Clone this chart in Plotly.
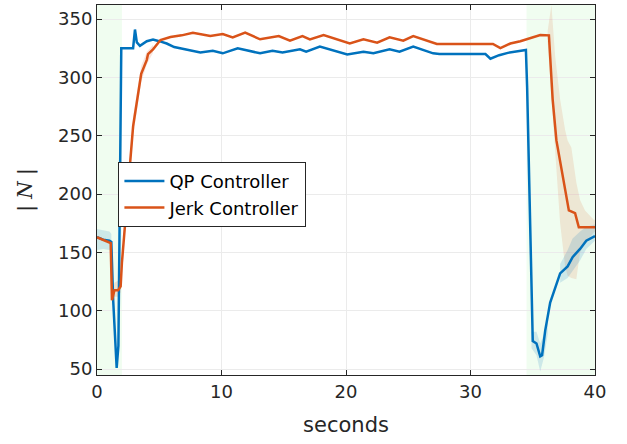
import plotly.graph_objects as go

# --- time / value samples for the two controllers ---
qp_t = [0, 0.5, 1.0, 1.15, 1.3, 1.58, 1.72, 1.95, 2.9, 3.05, 3.2, 3.45, 4.0, 4.5,
        5.0, 5.6, 6.2, 6.7, 7.5, 8.3, 9.3, 10.1, 11.3, 13.1, 14.1, 14.9, 16.3,
        16.8, 17.9, 20.1, 21.4, 22.2, 23.5, 24.3, 25.4, 27.0, 27.5, 31.2, 31.6,
        32.3, 33.0, 34.0, 34.45, 34.55, 34.75, 35.0, 35.3, 35.6, 35.75, 36.0,
        36.4, 37.2, 37.8, 38.2, 38.8, 39.3, 40]
qp_n = [163, 161, 160, 159, 109, 51, 70, 325, 325, 341, 330, 327, 331, 332.5,
        331, 329, 326, 325, 323, 321.4, 322.8, 320.6, 324.9, 320.6, 322.8, 321.4,
        324, 322, 326.3, 319.7, 322, 320.6, 324, 322, 326.3, 320.6, 320, 320, 316,
        319, 321, 322.5, 323.5, 291, 200, 74, 72, 61, 62, 83,
        107, 132, 138, 146, 153, 160, 164]

jerk_t = [0, 0.5, 1.1, 1.2, 1.4, 1.7, 1.9, 2.0, 2.4, 2.9, 3.55, 3.75, 4.0, 4.1,
          4.5, 5.1, 5.9, 6.8, 7.7, 9.1, 10.1, 10.9, 11.9, 13.1, 14.6, 15.5, 16.5,
          17.1, 18.2, 20.3, 21.4, 22.5, 23.5, 24.6, 25.4, 27.3, 31.8, 32.4, 33.2,
          34.0, 35.6, 36.3, 36.6, 36.9, 37.2, 37.6, 37.9, 38.4, 38.7, 40]
jerk_n = [163, 161, 158, 109, 117.7, 117.7, 121, 141, 195, 258, 303, 309, 315, 320,
          324, 332, 334.6, 336, 338.3, 335.4, 337.1, 334.3, 338.3, 332.6, 335.4,
          331.4, 335.4, 332.6, 336.3, 329.1, 332.6, 329.7, 334.3, 331.4, 335.4,
          328.6, 328.6, 325, 329, 331, 336.3, 336, 281, 246, 229, 203, 186, 183.6,
          171.5, 171.5]

# --- spread bands (lower / upper) ---
qp_band1_t = [0, 0.5, 1.0, 1.15]
qp_band1_lo = [152, 153, 152, 151]
qp_band1_hi = [170, 169, 168, 166]

qp_band2_t = [34.9, 35.3, 35.6, 35.9, 36.2]
qp_band2_lo = [68, 62, 48, 60, 80]
qp_band2_hi = [82, 82, 72, 80, 96]

qp_band3_t = [37.2, 37.8, 38.2, 38.8, 39.3, 40]
qp_band3_lo = [124, 128, 134, 143, 153, 160]
qp_band3_hi = [140, 152, 162, 168, 172, 174]

jerk_band1_t = [1.2, 1.4, 1.7, 1.9, 2.4, 2.9, 3.55, 3.75, 4.0, 4.5]
jerk_band1_lo = [105, 112, 112, 116, 188, 250, 296, 303, 311, 321]
jerk_band1_hi = [114, 124, 126, 127, 202, 266, 310, 316, 322, 328]

jerk_band2_t = [36.2, 36.5, 36.8, 37.2, 37.6, 37.8, 38.1, 38.5, 38.8, 39.2, 39.9, 40]
jerk_band2_lo = [330, 281, 240, 175, 138, 130, 128, 127, 150, 158, 167, 168]
jerk_band2_hi = [340, 362, 318, 281, 255, 246, 240, 210, 195, 186, 178, 178]

# shaded transition windows (seconds)
shade_windows = [(0, 2.0), (34.5, 40)]

BLUE = "#0072BD"
ORANGE = "#D95319"
TEXT = "#262626"

fig = go.Figure()

for x0, x1 in shade_windows:
    fig.add_vrect(x0=x0, x1=x1, fillcolor="#ecfcec", opacity=0.8,
                  line_width=0, layer="below")


def add_band(t, lo, hi, color):
    fig.add_trace(go.Scatter(
        x=list(t) + list(t)[::-1], y=list(hi) + list(lo)[::-1],
        fill="toself", fillcolor=color, line=dict(width=0),
        mode="lines", hoverinfo="skip", showlegend=False))


add_band(jerk_band1_t, jerk_band1_lo, jerk_band1_hi, "rgba(217,83,25,0.15)")
add_band(jerk_band2_t, jerk_band2_lo, jerk_band2_hi, "rgba(217,83,25,0.13)")
add_band(qp_band1_t, qp_band1_lo, qp_band1_hi, "rgba(0,114,189,0.15)")
add_band(qp_band2_t, qp_band2_lo, qp_band2_hi, "rgba(0,114,189,0.15)")
add_band(qp_band3_t, qp_band3_lo, qp_band3_hi, "rgba(0,114,189,0.15)")

fig.add_trace(go.Scatter(x=qp_t, y=qp_n, mode="lines", name="QP Controller",
                         line=dict(color=BLUE, width=2.5)))
fig.add_trace(go.Scatter(x=jerk_t, y=jerk_n, mode="lines", name="Jerk Controller",
                         line=dict(color=ORANGE, width=2.5)))

axis_common = dict(
    showline=True, linecolor=TEXT, linewidth=1, mirror="ticks",
    ticks="inside", ticklen=5, tickcolor=TEXT,
    showgrid=True, gridcolor="#ebebeb", gridwidth=1, zeroline=False,
    tickfont=dict(family="DejaVu Sans", size=18, color=TEXT),
)

fig.update_layout(
    width=627, height=444,
    margin=dict(l=97, r=32, t=5, b=69),
    paper_bgcolor="white", plot_bgcolor="white",
    xaxis=dict(range=[0, 40], tickvals=[0, 10, 20, 30, 40],
               title=dict(text="seconds", standoff=16,
                          font=dict(family="DejaVu Sans", size=21, color=TEXT)),
               **axis_common),
    yaxis=dict(range=[45, 362], tickvals=[50, 100, 150, 200, 250, 300, 350],
               title=dict(text="| <i>N</i> |", standoff=20,
                          font=dict(family="DejaVu Serif", size=20, color=TEXT)),
               **axis_common),
    legend=dict(x=0.043, y=0.576, xanchor="left", yanchor="top",
                bgcolor="white", bordercolor=TEXT, borderwidth=1,
                font=dict(family="DejaVu Sans", size=18, color="black"),
                tracegroupgap=0, itemwidth=40),
    showlegend=True,
)

fig.write_html("out.html")
